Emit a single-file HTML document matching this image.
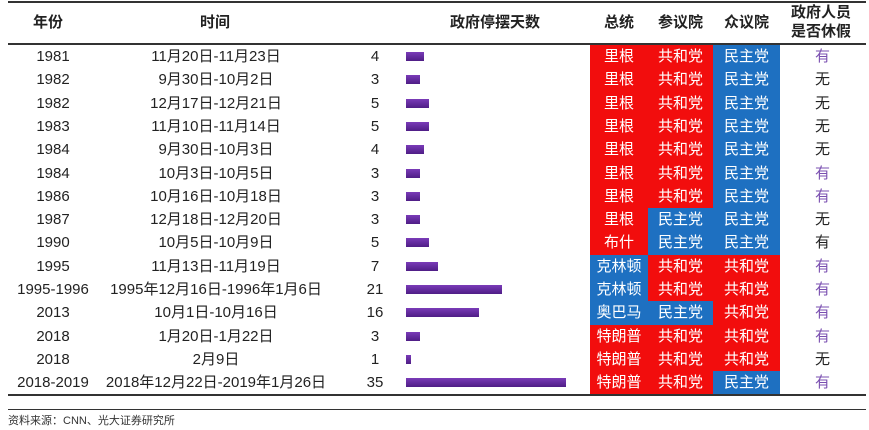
<!DOCTYPE html>
<html><head><meta charset="utf-8"><style>
*{margin:0;padding:0;box-sizing:border-box}
body{width:869px;height:430px;background:#fff;position:relative;overflow:hidden;font-family:"Liberation Sans","Noto Sans CJK SC",sans-serif;color:#222}
.ln{position:absolute;left:8px;width:858px;height:2px;background:#333}
.h{position:absolute;font-weight:bold;font-size:15px;text-align:center;line-height:19px;color:#222;white-space:nowrap}
.r{position:absolute;left:0;width:869px;height:24px;font-size:15px;line-height:23.3px;white-space:nowrap}
.r div{position:absolute;top:0;height:24px;text-align:center}
.y{left:3px;width:100px}
.t{left:90px;width:252px}
.n{left:355px;width:40px}
.b{left:406px!important;top:7px!important;height:9px!important;background:linear-gradient(#7a3bb8,#4f1d86)}
.p{left:590px;width:58px;color:#fff}
.s{left:648px;width:65px;color:#fff}
.o{left:713px;width:67px;color:#fff}
.v{left:795px;width:55px}
.R{background:#f20d0d}.D{background:#1e70c1}
.pu{color:#7a4fb0}
</style></head><body>
<div class="ln" style="top:1px"></div>
<div class="ln" style="top:43px"></div>
<div class="h" style="left:18px;width:60px;top:13px">年份</div>
<div class="h" style="left:150px;width:130px;top:13px">时间</div>
<div class="h" style="left:420px;width:150px;top:13px">政府停摆天数</div>
<div class="h" style="left:590px;width:58px;top:13px">总统</div>
<div class="h" style="left:648px;width:65px;top:13px">参议院</div>
<div class="h" style="left:713px;width:67px;top:13px">众议院</div>
<div class="h" style="left:780px;width:82px;top:3px">政府人员<br>是否休假</div>

<div class="r" style="top:45.0px"><div class="y">1981</div><div class="t">11月20日-11月23日</div><div class="n">4</div><div class="b" style="width:18px"></div><div class="p R">里根</div><div class="s R">共和党</div><div class="o D">民主党</div><div class="v pu">有</div></div>
<div class="r" style="top:68.3px"><div class="y">1982</div><div class="t">9月30日-10月2日</div><div class="n">3</div><div class="b" style="width:14px"></div><div class="p R">里根</div><div class="s R">共和党</div><div class="o D">民主党</div><div class="v">无</div></div>
<div class="r" style="top:91.6px"><div class="y">1982</div><div class="t">12月17日-12月21日</div><div class="n">5</div><div class="b" style="width:23px"></div><div class="p R">里根</div><div class="s R">共和党</div><div class="o D">民主党</div><div class="v">无</div></div>
<div class="r" style="top:114.9px"><div class="y">1983</div><div class="t">11月10日-11月14日</div><div class="n">5</div><div class="b" style="width:23px"></div><div class="p R">里根</div><div class="s R">共和党</div><div class="o D">民主党</div><div class="v">无</div></div>
<div class="r" style="top:138.2px"><div class="y">1984</div><div class="t">9月30日-10月3日</div><div class="n">4</div><div class="b" style="width:18px"></div><div class="p R">里根</div><div class="s R">共和党</div><div class="o D">民主党</div><div class="v">无</div></div>
<div class="r" style="top:161.5px"><div class="y">1984</div><div class="t">10月3日-10月5日</div><div class="n">3</div><div class="b" style="width:14px"></div><div class="p R">里根</div><div class="s R">共和党</div><div class="o D">民主党</div><div class="v pu">有</div></div>
<div class="r" style="top:184.8px"><div class="y">1986</div><div class="t">10月16日-10月18日</div><div class="n">3</div><div class="b" style="width:14px"></div><div class="p R">里根</div><div class="s R">共和党</div><div class="o D">民主党</div><div class="v pu">有</div></div>
<div class="r" style="top:208.1px"><div class="y">1987</div><div class="t">12月18日-12月20日</div><div class="n">3</div><div class="b" style="width:14px"></div><div class="p R">里根</div><div class="s D">民主党</div><div class="o D">民主党</div><div class="v">无</div></div>
<div class="r" style="top:231.4px"><div class="y">1990</div><div class="t">10月5日-10月9日</div><div class="n">5</div><div class="b" style="width:23px"></div><div class="p R">布什</div><div class="s D">民主党</div><div class="o D">民主党</div><div class="v">有</div></div>
<div class="r" style="top:254.7px"><div class="y">1995</div><div class="t">11月13日-11月19日</div><div class="n">7</div><div class="b" style="width:32px"></div><div class="p D">克林顿</div><div class="s R">共和党</div><div class="o R">共和党</div><div class="v pu">有</div></div>
<div class="r" style="top:278.0px"><div class="y">1995-1996</div><div class="t">1995年12月16日-1996年1月6日</div><div class="n">21</div><div class="b" style="width:96px"></div><div class="p D">克林顿</div><div class="s R">共和党</div><div class="o R">共和党</div><div class="v pu">有</div></div>
<div class="r" style="top:301.3px"><div class="y">2013</div><div class="t">10月1日-10月16日</div><div class="n">16</div><div class="b" style="width:73px"></div><div class="p D">奥巴马</div><div class="s D">民主党</div><div class="o R">共和党</div><div class="v pu">有</div></div>
<div class="r" style="top:324.6px"><div class="y">2018</div><div class="t">1月20日-1月22日</div><div class="n">3</div><div class="b" style="width:14px"></div><div class="p R">特朗普</div><div class="s R">共和党</div><div class="o R">共和党</div><div class="v pu">有</div></div>
<div class="r" style="top:347.9px"><div class="y">2018</div><div class="t">2月9日</div><div class="n">1</div><div class="b" style="width:5px"></div><div class="p R">特朗普</div><div class="s R">共和党</div><div class="o R">共和党</div><div class="v">无</div></div>
<div class="r" style="top:371.2px;height:23px"><div class="y">2018-2019</div><div class="t">2018年12月22日-2019年1月26日</div><div class="n">35</div><div class="b" style="width:160px"></div><div class="p R" style="height:23px">特朗普</div><div class="s R" style="height:23px">共和党</div><div class="o D" style="height:23px">民主党</div><div class="v pu">有</div></div>
<div class="ln" style="top:394px"></div>
<div class="ln" style="top:409px;height:1px"></div>
<div style="position:absolute;left:8px;top:412px;font-size:11px;color:#333">资料来源：CNN、光大证券研究所</div>
</body></html>
